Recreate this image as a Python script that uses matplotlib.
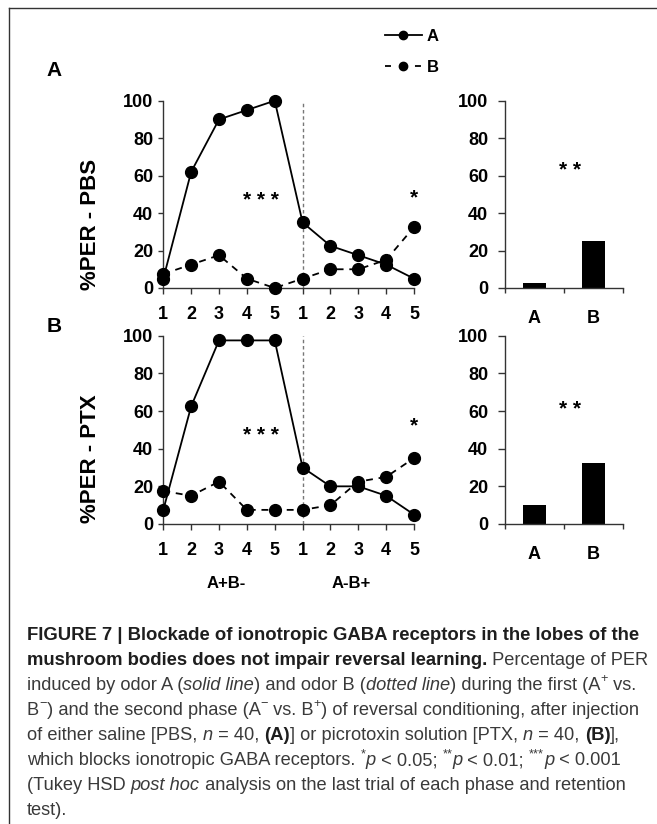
import matplotlib
matplotlib.use('Agg')
import matplotlib.pyplot as plt
from matplotlib.lines import Line2D

plt.rcParams['font.family'] = ['Liberation Sans', 'DejaVu Sans']

W, H = 657, 824  # output size in pixels

# data
trials = [1, 2, 3, 4, 5, 6, 7, 8, 9, 10]
trial_labels = ['1', '2', '3', '4', '5', '1', '2', '3', '4', '5']

pbs_a = [5, 62, 90, 95, 100, 35, 22.5, 17.5, 12.5, 5]
pbs_b = [7.5, 12.5, 17.5, 5, 0, 5, 10, 10, 15, 32.5]
ptx_a = [7.5, 62.5, 97.5, 97.5, 97.5, 30, 20, 20, 15, 5]
ptx_b = [17.5, 15, 22.5, 7.5, 7.5, 7.5, 10, 22.5, 25, 35]

test_labels = ['A', 'B']
pbs_test = [2.5, 25]
ptx_test = [10, 32.5]

# significance marks: (text, x, y)
pbs_stars = [('* * *', 4.5, 46.5), ('*', 10, 48)]
ptx_stars = [('* * *', 4.5, 47), ('*', 10, 52)]
pbs_bar_star = ('* *', 0.6, 62.5)
ptx_bar_star = ('* *', 0.6, 61)

phase_labels = [('A+B-', 3.25), ('A-B+', 7.75)]


def fx(px):
    return px / W


def fy(py):
    return 1 - py / H


fig = plt.figure(figsize=(W / 100, H / 100), dpi=100)


def axes_px(left, top, right, bottom):
    return fig.add_axes([fx(left), fy(bottom), (right - left) / W, (bottom - top) / H])


def style_axes(ax):
    ax.spines['top'].set_visible(False)
    ax.spines['right'].set_visible(False)
    for s in ('left', 'bottom'):
        ax.spines[s].set_color('#333333')
        ax.spines[s].set_linewidth(1)
    ax.set_ylim(0, 100)
    ax.set_yticks(range(0, 101, 20))
    for lab in ax.get_yticklabels() + ax.get_xticklabels():
        lab.set_fontweight('bold')


def line_panel(ax, a, b, stars):
    ax.axvline(6, color='#777777', lw=1, ls=(0, (2.5, 2)), zorder=1)
    ax.plot(trials, a, color='black', lw=1.3, marker='o', ms=8.5,
            clip_on=False, zorder=3)
    ax.plot(trials, b, color='black', lw=1.3, dashes=(3.8, 3.2), marker='o',
            ms=8.5, clip_on=False, zorder=3)
    ax.set_xlim(1, 10)
    ax.set_xticks(trials)
    ax.set_xticklabels(trial_labels)
    ax.tick_params(axis='x', length=4.3, width=1, pad=8.5, labelsize=13,
                   color='#333333')
    ax.tick_params(axis='y', length=3.6, width=1, pad=3.6, labelsize=13,
                   color='#333333')
    style_axes(ax)
    for txt, x, y in stars:
        ax.text(x, y, txt, ha='center', va='center', fontsize=15,
                fontweight='bold')


def bar_panel(ax, vals, star):
    ax.bar([0, 1], vals, width=0.39, color='black')
    ax.set_xlim(-0.5, 1.5)
    ax.set_xticks([0, 1])
    ax.set_xticklabels(test_labels)
    ax.set_xticks([-0.5, 0.5, 1.5], minor=True)
    ax.tick_params(axis='x', which='major', length=0, pad=16, labelsize=13)
    ax.tick_params(axis='x', which='minor', length=3.6, width=1, color='#333333')
    ax.tick_params(axis='y', length=5, width=1, pad=7, labelsize=13,
                   color='#333333')
    style_axes(ax)
    txt, x, y = star
    ax.text(x, y, txt, ha='center', va='center', fontsize=15, fontweight='bold')


ax_la = axes_px(163.3, 100.7, 414, 288)
ax_lb = axes_px(163.3, 335.7, 414, 524)
ax_ba = axes_px(505, 100.7, 623, 288)
ax_bb = axes_px(505, 335.7, 623, 524)

line_panel(ax_la, pbs_a, pbs_b, pbs_stars)
line_panel(ax_lb, ptx_a, ptx_b, ptx_stars)
bar_panel(ax_ba, pbs_test, pbs_bar_star)
bar_panel(ax_bb, ptx_test, ptx_bar_star)

for txt, x in phase_labels:
    ax_lb.text(x, -0.316, txt, transform=ax_lb.get_xaxis_transform(),
               ha='center', va='center', fontsize=12, fontweight='bold')

# y labels and panel letters
fig.text(fx(90), fy(290), '%PER - PBS', rotation=90, ha='center', va='bottom',
         fontsize=16, fontweight='bold')
fig.text(fx(90), fy(523), '%PER - PTX', rotation=90, ha='center', va='bottom',
         fontsize=16, fontweight='bold')
fig.text(fx(54.5), fy(70), 'A', ha='center', va='center', fontsize=15,
         fontweight='bold')
fig.text(fx(54.5), fy(327), 'B', ha='center', va='center', fontsize=15,
         fontweight='bold')

# legend
h_a = Line2D([], [], color='black', lw=1.3, marker='o', ms=6)
h_b = Line2D([], [], color='black', lw=1.3, ls=(0, (3.3, 13.3)), marker='o', ms=6)
fig.legend([h_a, h_b], ['A', 'B'], loc='upper left',
           bbox_to_anchor=(fx(385), fy(29)), frameon=False, borderpad=0,
           borderaxespad=0, handlelength=2.2, handletextpad=0.3,
           labelspacing=0.95, prop={'weight': 'bold', 'size': 12})

# frame lines (top and left only)
fig.add_artist(Line2D([fx(9), 1], [fy(7.5), fy(7.5)], transform=fig.transFigure,
                      color='#333333', lw=1))
fig.add_artist(Line2D([fx(9), fx(9)], [fy(7.5), 0], transform=fig.transFigure,
                      color='#333333', lw=1))

# caption
caption = [
    [('FIGURE 7 | Blockade of ionotropic GABA receptors in the lobes of the', 'b')],
    [('mushroom bodies does not impair reversal learning.', 'b'),
     (' Percentage of PER', 'n')],
    [('induced by odor A (', 'n'), ('solid line', 'i'),
     (') and odor B (', 'n'), ('dotted line', 'i'),
     (') during the first (A', 'n'), ('+', 's'), (' vs.', 'n')],
    [('B', 'n'), ('\u2212', 's'), (') and the second phase (A', 'n'), ('\u2212', 's'),
     (' vs. B', 'n'), ('+', 's'),
     (') of reversal conditioning, after injection', 'n')],
    [('of either saline [PBS, ', 'n'), ('n', 'i'), (' = 40, ', 'n'), ('(A)', 'b'),
     ('] or picrotoxin solution [PTX, ', 'n'), ('n', 'i'), (' = 40, ', 'n'),
     ('(B)', 'b'), ('],', 'n')],
    [('which blocks ionotropic GABA receptors. ', 'n'), ('*', 's'), ('p', 'i'),
     (' < 0.05; ', 'n'), ('**', 's'), ('p', 'i'), (' < 0.01; ', 'n'),
     ('***', 's'), ('p', 'i'), (' < 0.001', 'n')],
    [('(Tukey HSD ', 'n'), ('post hoc', 'i'),
     (' analysis on the last trial of each phase and retention', 'n')],
    [('test).', 'n')],
]

renderer = fig.canvas.get_renderer()


def run_kw(style, bold_size, size):
    kw = dict(fontsize=size, color='#3a3a3a')
    if style == 'b':
        kw.update(fontsize=bold_size, fontweight='bold', color='#1e1e1e')
    elif style == 'i':
        kw.update(fontstyle='italic')
    elif style == 's':
        kw.update(fontsize=size * 0.7)
    return kw


def text_width(s, **kw):
    t = fig.text(0, 0, '|' + s + '|', **kw)
    w1 = t.get_window_extent(renderer).width
    t.set_text('||')
    w0 = t.get_window_extent(renderer).width
    t.remove()
    return w1 - w0


def line_width(runs, bold_size, size):
    return sum(text_width(s, **run_kw(st, bold_size, size)) for s, st in runs)


# bold size fitted to line 1, regular size fitted to line 4
base = 12
bold_size = base * 612 / line_width(caption[0], base, base)
reg_size = base * 612 / line_width(caption[3], base, base)

for i, runs in enumerate(caption):
    x = 27
    y = 640 + 25 * i
    for s, st in runs:
        kw = run_kw(st, bold_size, reg_size)
        yy = y - (reg_size * 0.42 * 100 / 72 if st == 's' else 0)
        fig.text(fx(x), fy(yy), s, ha='left', va='baseline', **kw)
        x += text_width(s, **kw)

fig.savefig('out.png', dpi=100)
